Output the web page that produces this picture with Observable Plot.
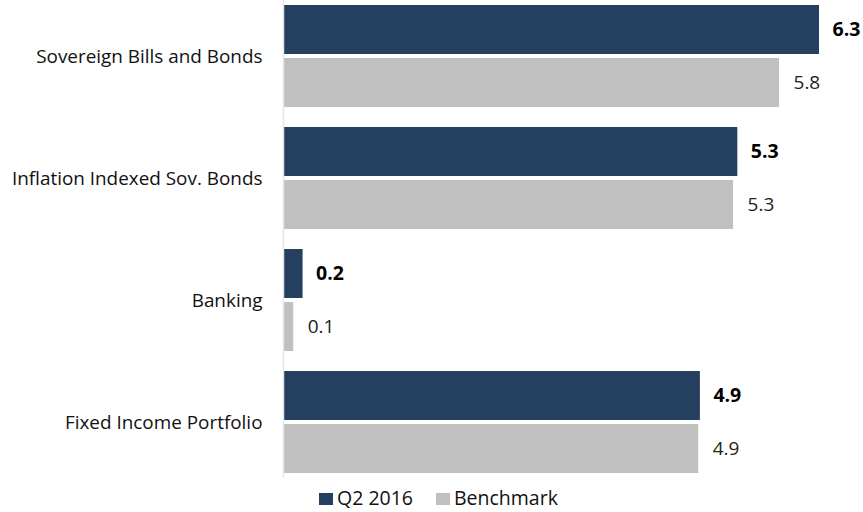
<!DOCTYPE html>
<html>
<head>
<meta charset="utf-8">
<script src="https://cdn.jsdelivr.net/npm/d3@7"></script>
<script src="https://cdn.jsdelivr.net/npm/@observablehq/plot@0.6"></script>
<style>
  body { margin: 0; background: #fff; font-family: "Open Sans", sans-serif; }
  #chart { width: 863px; }
  .legend { display: flex; gap: 23px; margin-left: 319px; margin-top: 0px; font-size: 19.5px; line-height: 24px; color: #111; align-items: center; }
  .legend span.item { display: flex; align-items: center; gap: 4px; }
  .legend span.sw { display: inline-block; width: 14px; height: 12px; margin-top: 2px; }
</style>
</head>
<body>
<div id="chart"></div>
<script>
const categories = ["Sovereign Bills and Bonds", "Inflation Indexed Sov. Bonds", "Banking", "Fixed Income Portfolio"];
const q2Values = [6.3, 5.34, 0.23, 4.9];
const benchmarkValues = [5.83, 5.29, 0.12, 4.88];
const seriesNames = ["Q2 2016", "Benchmark"];
const seriesColors = ["#253f60", "#c0c0c0"];

const q2 = categories.map((c, i) => ({category: c, value: q2Values[i]}));
const bench = categories.map((c, i) => ({category: c, value: benchmarkValues[i]}));

const fmt = d => d.value.toFixed(1);

const plot = Plot.plot({
  width: 863,
  height: 486,
  marginLeft: 283,
  marginRight: 44,
  marginTop: 0,
  marginBottom: 8,
  style: {fontFamily: "Open Sans, sans-serif", fontSize: "18.9px", color: "#111"},
  x: {domain: [0, 6.3], axis: null},
  y: {domain: categories, paddingInner: 0.164, paddingOuter: 0.041, label: null, tickSize: 0, tickPadding: 21},
  marks: [
    Plot.barX(q2, {x: "value", y: "category", fill: seriesColors[0], insetBottom: 53}),
    Plot.barX(bench, {x: "value", y: "category", fill: seriesColors[1], insetTop: 53}),
    Plot.ruleX([0], {stroke: "#e6e6e6", strokeWidth: 1.5}),
    Plot.text(q2, {x: "value", y: "category", text: fmt, dx: 13, dy: -26.5, textAnchor: "start", fontWeight: "bold", fontSize: 19.5, fill: "#000"}),
    Plot.text(bench, {x: "value", y: "category", text: fmt, dx: 14, dy: 26.5, textAnchor: "start", fontSize: 19, fill: "#222"})
  ]
});
document.getElementById("chart").appendChild(plot);

const legend = document.createElement("div");
legend.className = "legend";
seriesNames.forEach((name, i) => {
  const item = document.createElement("span");
  item.className = "item";
  const sw = document.createElement("span");
  sw.className = "sw";
  sw.style.background = seriesColors[i];
  item.appendChild(sw);
  item.appendChild(document.createTextNode(name));
  legend.appendChild(item);
});
document.getElementById("chart").appendChild(legend);
</script>
</body>
</html>
